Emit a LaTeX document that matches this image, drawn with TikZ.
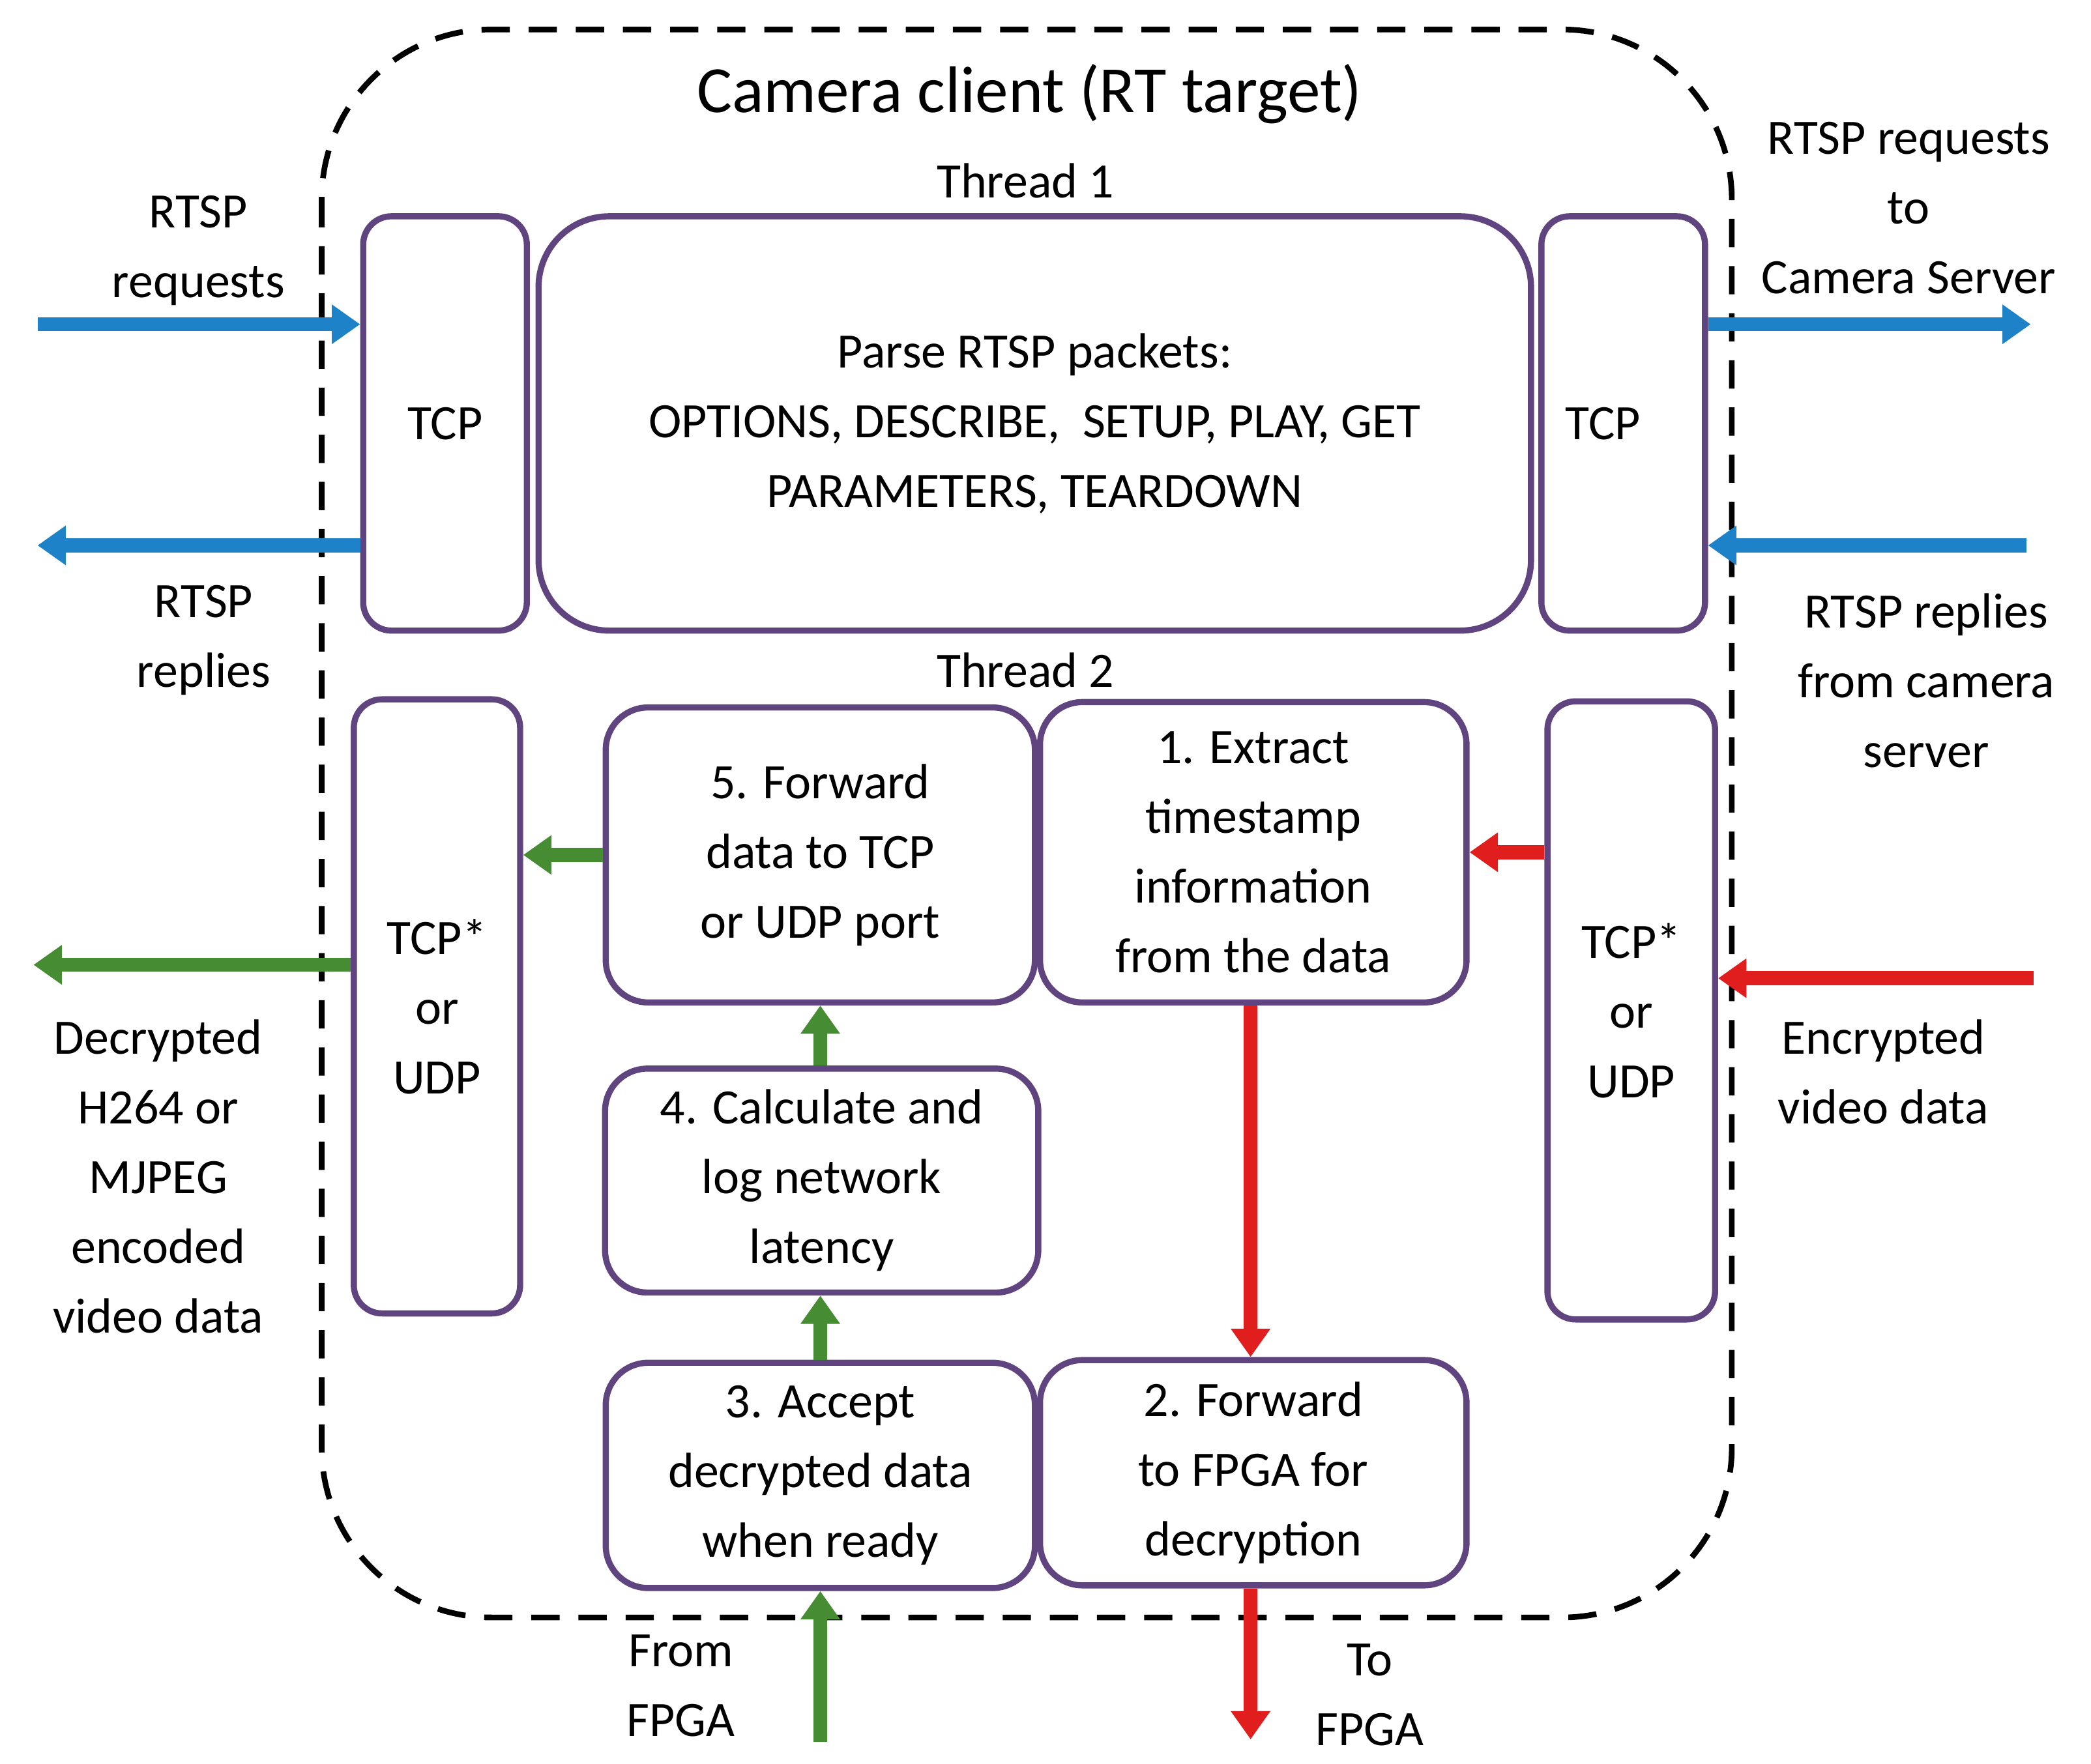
\documentclass[tikz,border=0pt]{standalone}
\usepackage{fontspec}
\setmainfont{Carlito}
\usetikzlibrary{positioning, arrows.meta, calc}
\definecolor{boxpurple}{RGB}{96,68,128}
\definecolor{arrblue}{RGB}{30,130,200}
\definecolor{arrgreen}{RGB}{70,140,50}
\definecolor{arrred}{RGB}{225,30,30}
\tikzset{
  blk/.style={draw=boxpurple, line width=1.3pt, rounded corners=9pt, align=center, inner sep=0pt},
  lbl/.style={align=center, font=\fontsize{10.5}{14.8}\selectfont},
  flow/.style={-{Triangle[length=6pt,width=8pt]}, line width=3pt},
}
\begin{document}
\begin{tikzpicture}[x=0.01cm, y=-0.01cm, font=\fontsize{10.5}{14.8}\selectfont]
  \useasboundingbox (0,0) rectangle (1560,1316);

  % client frame
  \draw[dash pattern=on 6pt off 4pt, line width=1.2pt, rounded corners=36pt] (240,22) rectangle (1292,1207);
  \node[font=\fontsize{14}{17}\selectfont] (title) at (768,70) {Camera client (RT target)};
  \node (th1) at (765,135) {Thread 1};
  \node (th2) at (765,500) {Thread 2};

  % thread 1
  \node[blk, minimum width=1.22cm, minimum height=3.09cm, rounded corners=6pt] (tcpA) at (332,316) {TCP};
  \node[blk, minimum width=7.4cm, minimum height=3.09cm, rounded corners=15pt] (parse) at (772,316) {Parse RTSP packets:\\OPTIONS, DESCRIBE,~ SETUP, PLAY, GET\\PARAMETERS, TEARDOWN};
  \node[blk, minimum width=1.22cm, minimum height=3.09cm, rounded corners=6pt] (tcpB) at (1211,316) {TCP\hspace{0.3cm}};

  % thread 2
  \node[blk, minimum width=1.24cm, minimum height=4.58cm, rounded corners=6pt] (udpA) at (326,751) {TCP*\\or\\UDP};
  \node[blk, minimum width=1.25cm, minimum height=4.61cm, rounded corners=6pt] (udpB) at (1217,754) {TCP*\\or\\UDP};
  \node[blk, minimum width=3.2cm, minimum height=2.2cm] (fwd) at (612,638) {5. Forward\\data to TCP\\or UDP port};
  \node[blk, minimum width=3.18cm, minimum height=2.24cm] (extract) at (935,636) {1. Extract\\timestamp\\information\\from the data};
  \node[blk, minimum width=3.23cm, minimum height=1.67cm] (calc) at (613,881) {4. Calculate and\\log network\\latency};
  \node[blk, minimum width=3.2cm, minimum height=1.68cm] (accept) at (612,1101) {3. Accept\\decrypted data\\when ready};
  \node[blk, minimum width=3.18cm, minimum height=1.68cm] (tofpga) at (935,1099) {2. Forward\\to FPGA for\\decryption};

  % free ends
  \coordinate (inReq) at (28,242);
  \coordinate (outRep) at (28,407);
  \coordinate (outReq) at (1515,242);
  \coordinate (inRep) at (1512,407);
  \coordinate (outVid) at (25,720);
  \coordinate (inVid) at (1517,730);
  \coordinate (fromF) at (612,1300);
  \coordinate (toF) at (933,1298);

  % RTSP arrows
  \draw[flow, arrblue] (inReq) -- (inReq -| tcpA.west);
  \draw[flow, arrblue] (outRep -| tcpA.west) -- (outRep);
  \draw[flow, arrblue] (outReq -| tcpB.east) -- (outReq);
  \draw[flow, arrblue] (inRep) -- (inRep -| tcpB.east);

  % video path
  \draw[flow, arrred] (inVid) -- (inVid -| udpB.east);
  \draw[flow, arrred] (udpB.west |- extract.west) -- (extract.east);
  \draw[flow, arrred] (extract.south -| toF) -- (tofpga.north -| toF);
  \draw[flow, arrred] (tofpga.south -| toF) -- (toF);
  \draw[flow, arrgreen] (fromF) -- (accept.south);
  \draw[flow, arrgreen] (accept.north) -- (calc.south -| accept.north);
  \draw[flow, arrgreen] (calc.north -| fwd.south) -- (fwd.south);
  \draw[flow, arrgreen] (fwd.west) -- (fwd.west -| udpA.east);
  \draw[flow, arrgreen] (outVid -| udpA.west) -- (outVid);

  % outer labels
  \node[lbl] (lReq) at (148,187) {RTSP\\requests};
  \node[lbl] (lRep) at (152,478) {RTSP\\replies};
  \node[lbl] (rReq) at (1424,155) {RTSP requests\\to\\Camera Server};
  \node[lbl] (rRep) at (1437,508) {RTSP replies\\from camera\\server};
  \node[lbl] (lVid) at (118,878) {Decrypted\\H264 or\\MJPEG\\encoded\\video data};
  \node[lbl] (rVid) at (1405,800) {Encrypted\\video data};
  \node[lbl] (lFrom) at (508,1258) {From\\FPGA};
  \node[lbl] (lTo) at (1022,1265) {To\\FPGA};
\end{tikzpicture}
\end{document}
